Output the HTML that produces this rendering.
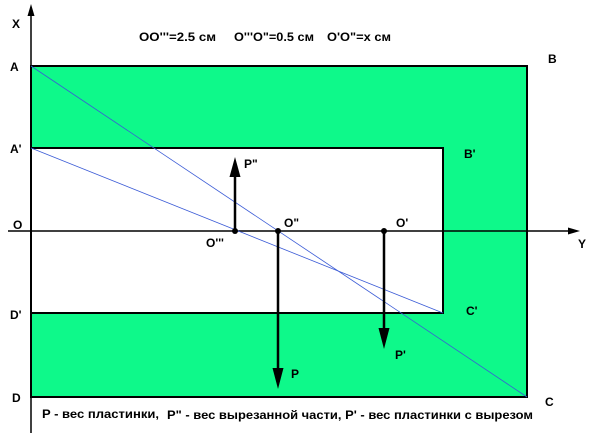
<!DOCTYPE html>
<html><head><meta charset="utf-8"><style>
html,body{margin:0;padding:0;background:#fff;width:600px;height:433px;overflow:hidden}
text{font-family:"Liberation Sans",sans-serif;font-weight:bold;font-size:12px;fill:#000}
</style></head><body>
<svg width="600" height="433" viewBox="0 0 600 433" xmlns="http://www.w3.org/2000/svg">
<rect x="31" y="66" width="496" height="331" fill="#0ef98a" stroke="#000" stroke-width="2"/>
<rect x="31" y="148" width="412" height="165" fill="#fff" stroke="#000" stroke-width="2"/>
<line x1="31" y1="10" x2="31" y2="433" stroke="#000" stroke-width="1.5"/>
<polygon points="31,4 27.5,16 34.5,16" fill="#000"/>
<line x1="8" y1="231" x2="572" y2="231" stroke="#000" stroke-width="1.5"/>
<polygon points="580,231 568,227.5 568,234.5" fill="#000"/>
<line x1="31" y1="66" x2="527" y2="397" stroke="#3b5bd6" stroke-width="0.8"/>
<line x1="31" y1="148" x2="443" y2="313" stroke="#3b5bd6" stroke-width="0.8"/>
<line x1="235" y1="231" x2="235" y2="175" stroke="#000" stroke-width="2.5"/>
<polygon points="235,157 229.5,177 240.5,177" fill="#000"/>
<line x1="278" y1="231" x2="278" y2="368" stroke="#000" stroke-width="2.5"/>
<polygon points="278,389 272.5,368 283.5,368" fill="#000"/>
<line x1="384" y1="231" x2="384" y2="328" stroke="#000" stroke-width="2.5"/>
<polygon points="384,349 378.5,328 389.5,328" fill="#000"/>
<circle cx="235" cy="231" r="3" fill="#000"/>
<circle cx="278" cy="231" r="3" fill="#000"/>
<circle cx="384" cy="231" r="3" fill="#000"/>
<text x="12" y="28">X</text>
<text x="578" y="248">Y</text>
<text x="139" y="41" textLength="77" lengthAdjust="spacingAndGlyphs">OO'''=2.5 см</text>
<text x="234" y="41" textLength="80" lengthAdjust="spacingAndGlyphs">O'''O"=0.5 см</text>
<text x="327" y="41" textLength="64" lengthAdjust="spacingAndGlyphs">O'O"=x см</text>
<text x="10" y="71">A</text>
<text x="548" y="63">B</text>
<text x="10" y="153">A'</text>
<text x="464" y="158">B'</text>
<text x="13" y="229">O</text>
<text x="284" y="227">O"</text>
<text x="396" y="227">O'</text>
<text x="206" y="247">O'''</text>
<text x="244" y="168">P"</text>
<text x="10" y="319">D'</text>
<text x="466" y="315">C'</text>
<text x="12" y="402">D</text>
<text x="545" y="406">C</text>
<text x="291" y="378">P</text>
<text x="395" y="359">P'</text>
<text x="42" y="418" textLength="117" lengthAdjust="spacingAndGlyphs">P - вес пластинки,</text>
<text x="167" y="419" textLength="366" lengthAdjust="spacingAndGlyphs">P" - вес вырезанной части, P' - вес пластинки с вырезом</text>
</svg>
</body></html>
